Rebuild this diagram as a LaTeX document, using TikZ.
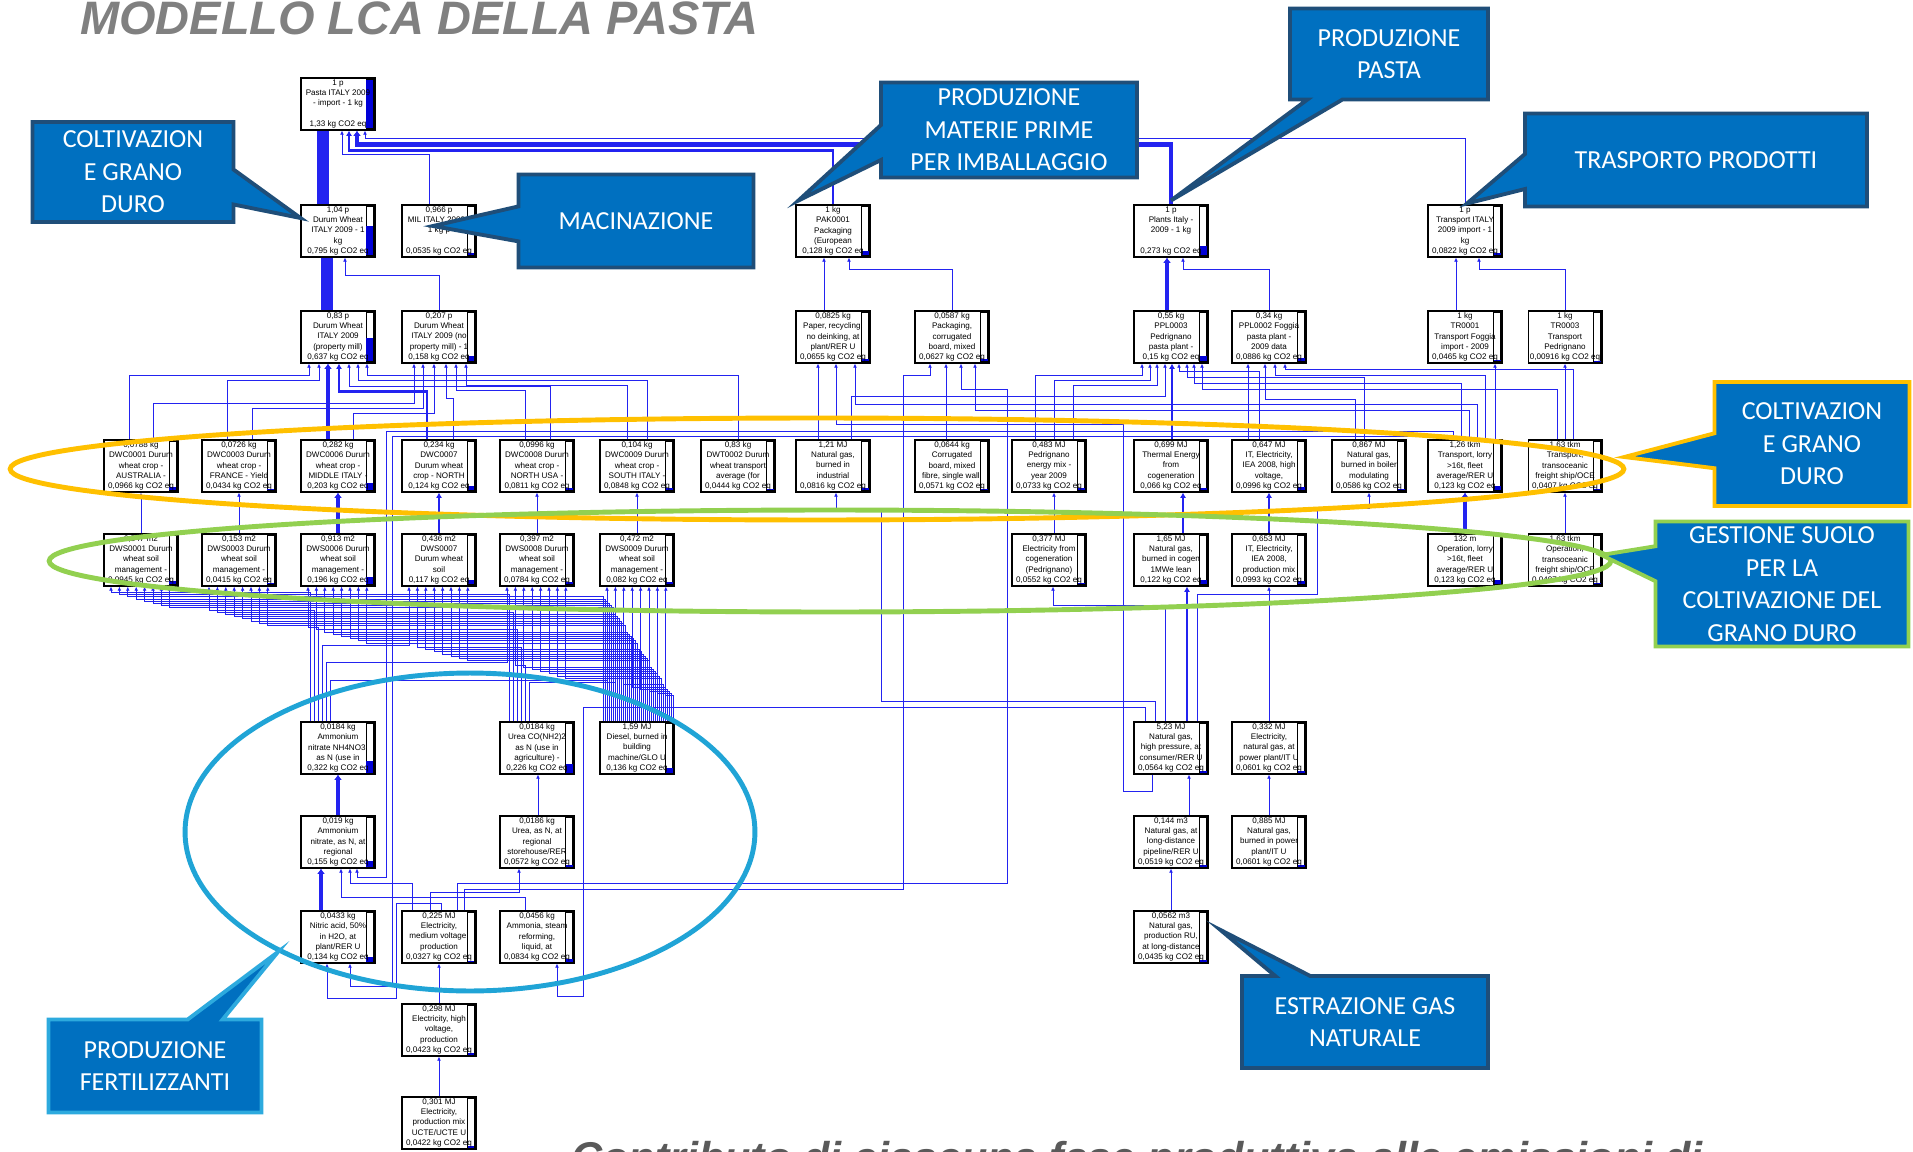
\documentclass[tikz,border=0pt]{standalone}
\usepackage{fontspec}
\setmainfont{Carlito}
\newfontfamily\boxfont{Liberation Sans}
\newfontfamily\headfont{Liberation Sans}
\usepackage{tikz}
\usetikzlibrary{arrows.meta,calc,shapes.callouts,shapes.geometric}
\definecolor{lineblue}{RGB}{35,35,240}
\definecolor{barblue}{RGB}{0,0,215}
\definecolor{calloutblue}{RGB}{0,112,192}
\definecolor{calloutedge}{RGB}{31,78,121}
\definecolor{fertedge}{RGB}{45,170,222}
\definecolor{ringorange}{RGB}{255,192,0}
\definecolor{ringgreen}{RGB}{146,208,80}
\definecolor{ringcyan}{RGB}{32,164,214}
\definecolor{titlegray}{RGB}{128,128,128}
\definecolor{captiongray}{RGB}{90,90,90}

\begin{document}
\begin{tikzpicture}[x=0.02cm, y=-0.02cm,
  proc/.style={draw, line width=0.6pt, fill=white, minimum width=1.48cm, minimum height=1.04cm,
    inner xsep=0pt, inner ysep=0.7pt, align=center, font=\boxfont\fontsize{4.6}{5.75}\selectfont,
    path picture={
      \draw[line width=0.6pt, fill=white] ([shift={(-0.17cm,-0.03cm)}]path picture bounding box.north east) rectangle ([shift={(-0.03cm,0.03cm)}]path picture bounding box.south east);
      \fill[barblue] ([shift={(-0.17cm,0.03cm)}]path picture bounding box.south east) rectangle ([shift={(-0.03cm,{0.03cm+#1*0.98cm})}]path picture bounding box.south east);}},
  flow/.style={draw=lineblue, line width=0.55pt, -{Latex[length=2.4pt,width=2.2pt]}},
  flowm/.style={flow, line width=1.3pt, -{Latex[length=3pt,width=3.4pt]}},
  flowt/.style={flow, line width=2.5pt, -{Latex[length=3pt,width=4.5pt]}},
  flowh/.style={draw=lineblue, line width=6.5pt},
  ring/.style={ellipse, draw=#1, line width=2.8pt, inner sep=0pt},
  bubble/.style={rectangle callout, draw=#1, fill=calloutblue, line width=2.2pt, text=white, align=center,
    inner sep=0pt, font=\fontsize{14.8}{18.5}\selectfont, callout pointer width=0.7cm},
  bubble/.default=calloutedge]
\useasboundingbox (0,0) rectangle (1913,1152);
\fill[white] (0,0) rectangle (1913,1152);

% process boxes
\node[proc=1] (pasta) at (338,104) {1 p\\Pasta ITALY 2009\\- import - 1 kg\\~\\1,33 kg CO2 eq};

\node[proc=0.6] (dwit) at (338,231) {1,04 p\\Durum Wheat\\ITALY 2009 - 1\\kg\\0,795 kg CO2 eq};
\node[proc=0.05] (mil) at (439,231) {0,966 p\\MIL ITALY 2009 -\\1 kg p\\~\\0,0535 kg CO2 eq};
\node[proc=0.1] (pak) at (833,231) {1 kg\\PAK0001\\Packaging\\(European\\0,128 kg CO2 eq};
\node[proc=0.2] (plants) at (1171,231) {1 p\\Plants Italy -\\2009 - 1 kg\\~\\0,273 kg CO2 eq};
\node[proc=0.06] (transp) at (1465,231) {1 p\\Transport ITALY\\2009 import - 1\\kg\\0,0822 kg CO2 eq};

\node[proc=0.48] (dwprop) at (338,337) {0,83 p\\Durum Wheat\\ITALY 2009\\(property mill)\\0,637 kg CO2 eq};
\node[proc=0.12] (dwnop) at (439,337) {0,207 p\\Durum Wheat\\ITALY 2009 (no\\property mill) - 1\\0,158 kg CO2 eq};
\node[proc=0.05] (paper) at (833,337) {0,0825 kg\\Paper, recycling,\\no deinking, at\\plant/RER U\\0,0655 kg CO2 eq};
\node[proc=0.05] (packaging) at (952,337) {0,0587 kg\\Packaging,\\corrugated\\board, mixed\\0,0627 kg CO2 eq};
\node[proc=0.11] (ppl3) at (1171,337) {0,55 kg\\PPL0003\\Pedrignano\\pasta plant -\\0,15 kg CO2 eq};
\node[proc=0.07] (ppl2) at (1269,337) {0,34 kg\\PPL0002 Foggia\\pasta plant -\\2009 data\\0,0886 kg CO2 eq};
\node[proc=0.03] (tr1) at (1465,337) {1 kg\\TR0001\\Transport Foggia\\import - 2009\\0,0465 kg CO2 eq};
\node[proc=0.01] (tr3) at (1565,337) {1 kg\\TR0003\\Transport\\Pedrignano\\0,00916 kg CO2 eq};

\node[proc=0.07] (dwc1) at (141,466) {0,0788 kg\\DWC0001 Durum\\wheat crop -\\AUSTRALIA -\\0,0966 kg CO2 eq};
\node[proc=0.03] (dwc3) at (239,466) {0,0726 kg\\DWC0003 Durum\\wheat crop -\\FRANCE - Yield\\0,0434 kg CO2 eq};
\node[proc=0.15] (dwc6) at (338,466) {0,282 kg\\DWC0006 Durum\\wheat crop -\\MIDDLE ITALY -\\0,203 kg CO2 eq};
\node[proc=0.09] (dwc7) at (439,466) {0,234 kg\\DWC0007\\Durum wheat\\crop - NORTH\\0,124 kg CO2 eq};
\node[proc=0.06] (dwc8) at (537,466) {0,0996 kg\\DWC0008 Durum\\wheat crop -\\NORTH USA -\\0,0811 kg CO2 eq};
\node[proc=0.06] (dwc9) at (637,466) {0,104 kg\\DWC0009 Durum\\wheat crop -\\SOUTH ITALY -\\0,0848 kg CO2 eq};
\node[proc=0.03] (dwt) at (738,466) {0,83 kg\\DWT0002 Durum\\wheat transport\\average (for\\0,0444 kg CO2 eq};
\node[proc=0.06] (ngind) at (833,466) {1,21 MJ\\Natural gas,\\burned in\\industrial\\0,0816 kg CO2 eq};
\node[proc=0.04] (corr) at (952,466) {0,0644 kg\\Corrugated\\board, mixed\\fibre, single wall,\\0,0571 kg CO2 eq};
\node[proc=0.05] (pedr) at (1049,466) {0,483 MJ\\Pedrignano\\energy mix -\\year 2009\\0,0733 kg CO2 eq};
\node[proc=0.05] (thermal) at (1171,466) {0,699 MJ\\Thermal Energy\\from\\cogeneration\\0,066 kg CO2 eq};
\node[proc=0.07] (ithv) at (1269,466) {0,647 MJ\\IT, Electricity,\\IEA 2008, high\\voltage,\\0,0996 kg CO2 eq};
\node[proc=0.04] (ngboiler) at (1369,466) {0,867 MJ\\Natural gas,\\burned in boiler\\modulating\\0,0586 kg CO2 eq};
\node[proc=0.09] (lorry) at (1465,466) {1,26 tkm\\Transport, lorry\\>16t, fleet\\average/RER U\\0,123 kg CO2 eq};
\node[proc=0.03] (ocean) at (1565,466) {1,63 tkm\\Transport,\\transoceanic\\freight ship/OCE\\0,0407 kg CO2 eq};

\node[proc=0.07] (dws1) at (141,560) {0,547 m2\\DWS0001 Durum\\wheat soil\\management -\\0,0945 kg CO2 eq};
\node[proc=0.03] (dws3) at (239,560) {0,153 m2\\DWS0003 Durum\\wheat soil\\management -\\0,0415 kg CO2 eq};
\node[proc=0.15] (dws6) at (338,560) {0,913 m2\\DWS0006 Durum\\wheat soil\\management -\\0,196 kg CO2 eq};
\node[proc=0.09] (dws7) at (439,560) {0,436 m2\\DWS0007\\Durum wheat\\soil\\0,117 kg CO2 eq};
\node[proc=0.06] (dws8) at (537,560) {0,397 m2\\DWS0008 Durum\\wheat soil\\management -\\0,0784 kg CO2 eq};
\node[proc=0.06] (dws9) at (637,560) {0,472 m2\\DWS0009 Durum\\wheat soil\\management -\\0,082 kg CO2 eq};
\node[proc=0.04] (elcogen) at (1049,560) {0,377 MJ\\Electricity from\\cogeneration\\(Pedrignano)\\0,0552 kg CO2 eq};
\node[proc=0.09] (ngcogen) at (1171,560) {1,65 MJ\\Natural gas,\\burned in cogen\\1MWe lean\\0,122 kg CO2 eq};
\node[proc=0.07] (itmix) at (1269,560) {0,653 MJ\\IT, Electricity,\\IEA 2008,\\production mix\\0,0993 kg CO2 eq};
\node[proc=0.09] (oplorry) at (1465,560) {132 m\\Operation, lorry\\>16t, fleet\\average/RER U\\0,123 kg CO2 eq};
\node[proc=0.03] (opocean) at (1565,560) {1,63 tkm\\Operation,\\transoceanic\\freight ship/OCE\\0,0407 kg CO2 eq};

\node[proc=0.24] (an) at (338,748) {0,0184 kg\\Ammonium\\nitrate NH4NO3,\\as N (use in\\0,322 kg CO2 eq};
\node[proc=0.17] (urea) at (537,748) {0,0184 kg\\Urea CO(NH2)2\\as N (use in\\agriculture) -\\0,226 kg CO2 eq};
\node[proc=0.1] (diesel) at (637,748) {1,59 MJ\\Diesel, burned in\\building\\machine/GLO U\\0,136 kg CO2 eq};
\node[proc=0.04] (nghp) at (1171,748) {5,23 MJ\\Natural gas,\\high pressure, at\\consumer/RER U\\0,0564 kg CO2 eq};
\node[proc=0.04] (elng) at (1269,748) {0,332 MJ\\Electricity,\\natural gas, at\\power plant/IT U\\0,0601 kg CO2 eq};

\node[proc=0.12] (anreg) at (338,842) {0,019 kg\\Ammonium\\nitrate, as N, at\\regional\\0,155 kg CO2 eq};
\node[proc=0.04] (ureareg) at (537,842) {0,0186 kg\\Urea, as N, at\\regional\\storehouse/RER\\0,0572 kg CO2 eq};
\node[proc=0.04] (ngld) at (1171,842) {0,144 m3\\Natural gas, at\\long-distance\\pipeline/RER U\\0,0519 kg CO2 eq};
\node[proc=0.04] (ngpp) at (1269,842) {0,885 MJ\\Natural gas,\\burned in power\\plant/IT U\\0,0601 kg CO2 eq};

\node[proc=0.1] (nitric) at (338,937) {0,0433 kg\\Nitric acid, 50\%\\in H2O, at\\plant/RER U\\0,134 kg CO2 eq};
\node[proc=0.02] (elmv) at (439,937) {0,225 MJ\\Electricity,\\medium voltage,\\production\\0,0327 kg CO2 eq};
\node[proc=0.06] (ammonia) at (537,937) {0,0456 kg\\Ammonia, steam\\reforming,\\liquid, at\\0,0834 kg CO2 eq};
\node[proc=0.03] (ngru) at (1171,937) {0,0562 m3\\Natural gas,\\production RU,\\at long-distance\\0,0435 kg CO2 eq};
\node[proc=0.03] (elhv) at (439,1030) {0,298 MJ\\Electricity, high\\voltage,\\production\\0,0423 kg CO2 eq};
\node[proc=0.03] (elucte) at (439,1123) {0,301 MJ\\Electricity,\\production mix\\UCTE/UCTE U\\0,0422 kg CO2 eq};

% top of the tree
\draw[flowh] ($(dwit.north)+(-15,0)$) -- ($(pasta.south)+(-15,0)$);
\draw[flow] ($(mil.north)+(-10,0)$) |- ($(pasta.south)+(4,24)$) -- ($(pasta.south)+(4,0)$);
\draw[flowm] (pak.north) |- ($(pasta.south)+(11,20)$) -- ($(pasta.south)+(11,0)$);
\draw[flowt] (plants.north) |- ($(pasta.south)+(19,14)$) -- ($(pasta.south)+(19,0)$);
\draw[flow] (transp.north) |- ($(pasta.south)+(27,8)$) -- ($(pasta.south)+(27,0)$);
\draw[flowh] ($(dwprop.north)+(-11,0)$) -- ($(dwit.south)+(-11,0)$);
\draw[flow] (dwnop.north) |- ($(dwit.south)+(7,18)$) -- ($(dwit.south)+(7,0)$);
\draw[flow] ($(paper.north)+(-9,0)$) -- ($(pak.south)+(-9,0)$);
\draw[flow] (packaging.north) |- ($(pak.south)+(16,12)$) -- ($(pak.south)+(16,0)$);
\draw[flowt] ($(ppl3.north)+(-4,0)$) -- ($(plants.south)+(-4,0)$);
\draw[flow] (ppl2.north) |- ($(plants.south)+(12,12)$) -- ($(plants.south)+(12,0)$);
\draw[flow] ($(tr1.north)+(-9,0)$) -- ($(transp.south)+(-9,0)$);
\draw[flow] (tr3.north) |- ($(transp.south)+(14,12)$) -- ($(transp.south)+(14,0)$);

% wheat crops
\draw[flow] ($(dwc1.north)+(-12,0)$) |- ($(dwprop.south)+(-29,12)$) -- ($(dwprop.south)+(-29,0)$);
\draw[flow] ($(dwc3.north)+(-12,0)$) |- ($(dwprop.south)+(-19,17)$) -- ($(dwprop.south)+(-19,0)$);
\draw[flowt] ($(dwc6.north)+(-10,0)$) -- ($(dwprop.south)+(-10,0)$);
\draw[flowm] ($(dwc7.north)+(-12,0)$) |- ($(dwprop.south)+(1,28)$) -- ($(dwprop.south)+(1,0)$);
\draw[flow] ($(dwc8.north)+(13,0)$) |- ($(dwprop.south)+(11,23)$) -- ($(dwprop.south)+(11,0)$);
\draw[flow] ($(dwc9.north)+(10,0)$) |- ($(dwprop.south)+(20,17)$) -- ($(dwprop.south)+(20,0)$);
\draw[flow] (dwt.north) |- ($(dwprop.south)+(29,12)$) -- ($(dwprop.south)+(29,0)$);
\draw[flow] ($(dwc1.north)+(12,0)$) |- ($(dwnop.south)+(-25,40)$) -- ($(dwnop.south)+(-25,0)$);
\draw[flow] ($(dwc3.north)+(13,0)$) |- ($(dwnop.south)+(-16,45)$) -- ($(dwnop.south)+(-16,0)$);
\draw[flow] ($(dwc6.north)+(15,0)$) |- ($(dwnop.south)+(-5,50)$) -- ($(dwnop.south)+(-5,0)$);
\draw[flow] ($(dwc7.north)+(14,0)$) |- ($(dwnop.south)+(7,35)$) -- ($(dwnop.south)+(7,0)$);
\draw[flow] ($(dwc8.north)+(-12,0)$) |- ($(dwnop.south)+(17,27)$) -- ($(dwnop.south)+(17,0)$);
\draw[flow] ($(dwc9.north)+(-10,0)$) |- ($(dwnop.south)+(27,22)$) -- ($(dwnop.south)+(27,0)$);
\draw[flow] (dws1.north) -- (dwc1.south);
\draw[flow] (dws3.north) -- (dwc3.south);
\draw[flowt] (dws6.north) -- (dwc6.south);
\draw[flowm] (dws7.north) -- (dwc7.south);
\draw[flow] (dws8.north) -- (dwc8.south);
\draw[flow] (dws9.north) -- (dwc9.south);

% packaging, plants, transport
\draw[flow] ($(ngind.north)+(-15,0)$) -- ($(paper.south)+(-15,0)$);
\draw[flow] ($(nghp.south)+(-19,0)$) |- ($(paper.south)+(290,428)$) |- ($(paper.south)+(3,61)$) -- ($(paper.south)+(3,0)$);
\draw[flow] ($(lorry.north)+(12,0)$) |- ($(paper.south)+(22,41)$) -- ($(paper.south)+(22,0)$);
\draw[flow] ($(elmv.north)+(25,0)$) |- ($(packaging.south)+(-49,526)$) |- ($(packaging.south)+(-22,12)$) -- ($(packaging.south)+(-22,0)$);
\draw[flow] ($(corr.north)+(-6,0)$) -- ($(packaging.south)+(-6,0)$);
\draw[flow] ($(elmv.north)+(18,0)$) |- ($(packaging.south)+(55,520)$) |- ($(packaging.south)+(9,26)$) -- ($(packaging.south)+(9,0)$);
\draw[flow] ($(lorry.north)+(4,0)$) |- ($(packaging.south)+(23,47)$) -- ($(packaging.south)+(23,0)$);
\draw[flow] ($(pedr.north)+(-14,0)$) |- ($(ppl3.south)+(-29,12)$) -- ($(ppl3.south)+(-29,0)$);
\draw[flow] ($(pedr.north)+(5,0)$) |- ($(ppl3.south)+(-21,17)$) -- ($(ppl3.south)+(-21,0)$);
\draw[flow] ($(pedr.north)+(24,0)$) |- ($(ppl3.south)+(-14,22)$) -- ($(ppl3.south)+(-14,0)$);
\draw[flow] ($(ngind.north)+(18,0)$) |- ($(ppl3.south)+(-6,33)$) -- ($(ppl3.south)+(-6,0)$);
\draw[flowm] ($(thermal.north)+(1,0)$) -- ($(ppl3.south)+(1,0)$);
\draw[flow] ($(ithv.north)+(-10,0)$) |- ($(ppl3.south)+(8,8)$) -- ($(ppl3.south)+(8,0)$);
\draw[flow] ($(ngboiler.north)+(-5,0)$) |- ($(ppl3.south)+(16,14)$) -- ($(ppl3.south)+(16,0)$);
\draw[flow] ($(lorry.north)+(-4,0)$) |- ($(ppl3.south)+(23,20)$) -- ($(ppl3.south)+(23,0)$);
\draw[flow] ($(ocean.north)+(-8,0)$) |- ($(ppl3.south)+(31,26)$) -- ($(ppl3.south)+(31,0)$);
\draw[flow] ($(ithv.north)+(-21,0)$) -- ($(ppl2.south)+(-21,0)$);
\draw[flow] ($(ngboiler.north)+(-14,0)$) |- ($(ppl2.south)+(-4,36)$) -- ($(ppl2.south)+(-4,0)$);
\draw[flow] ($(lorry.north)+(20,0)$) |- ($(ppl2.south)+(6,12)$) -- ($(ppl2.south)+(6,0)$);
\draw[flow] ($(ocean.north)+(8,0)$) |- ($(ppl2.south)+(16,6)$) -- ($(ppl2.south)+(16,0)$);
\draw[flow] ($(lorry.north)+(30,0)$) -- ($(tr1.south)+(30,0)$);
\draw[flow] (ocean.north) -- (tr3.south);
\draw[flow] ($(elcogen.north)+(5,0)$) -- ($(pedr.south)+(5,0)$);
\draw[flowm] ($(ngcogen.north)+(12,0)$) -- ($(thermal.south)+(12,0)$);
\draw[flowm] (itmix.north) -- (ithv.south);
\draw[flowt] (oplorry.north) -- (lorry.south);
\draw[flow] (opocean.north) -- (ocean.south);

% natural gas
\draw[flow] ($(nghp.north)+(-16,0)$) |- ($(ngind.south)+(48,209)$) |- ($(ngind.south)+(3,19)$) -- ($(ngind.south)+(3,0)$);
\draw[flow] ($(nghp.north)+(-6,0)$) |- ($(elcogen.south)+(4,19)$) -- ($(elcogen.south)+(4,0)$);
\draw[flowm] ($(nghp.north)+(16,0)$) -- ($(ngcogen.south)+(16,0)$);
\draw[flow] ($(nghp.north)+(26,0)$) |- ($(ngboiler.south)+(-52,102)$) |- ($(ngboiler.south)+(0,16)$) -- (ngboiler.south);
\draw[flow] ($(nghp.north)+(-26,0)$) |- ($(ammonia.south)+(46,-256)$) |- ($(ammonia.south)+(20,33)$) -- ($(ammonia.south)+(20,0)$);
\draw[flow] ($(ngld.north)+(18,0)$) -- ($(nghp.south)+(18,0)$);
\draw[flow] (ngru.north) -- (ngld.south);
\draw[flow] (elng.north) -- (itmix.south);
\draw[flow] (ngpp.north) -- (elng.south);

% fertilisers
\draw[flowt] (anreg.north) -- (an.south);
\draw[flowt] ($(nitric.north)+(-17,0)$) -- ($(anreg.south)+(-17,0)$);
\draw[flow] ($(ammonia.north)+(-12,0)$) |- ($(anreg.south)+(3,29)$) -- ($(anreg.south)+(3,0)$);
\draw[flow] ($(elmv.north)+(-27,0)$) |- ($(anreg.south)+(12,15)$) -- ($(anreg.south)+(12,0)$);
\draw[flow] ($(lorry.north)+(-12,0)$) |- ($(anreg.south)+(48,-437)$) |- ($(anreg.south)+(19,9)$) -- ($(anreg.south)+(19,0)$);
\draw[flow] ($(lorry.north)+(-20,0)$) |- ($(nitric.south)+(54,-527)$) |- ($(nitric.south)+(12,23)$) -- ($(nitric.south)+(12,0)$);
\draw[flow] ($(ureareg.north)+(1,0)$) -- ($(urea.south)+(1,0)$);
\draw[flow] ($(elmv.north)+(-9,0)$) |- ($(ureareg.south)+(-18,24)$) -- ($(ureareg.south)+(-18,0)$);
\draw[flow] ($(elmv.north)+(2,0)$) |- ($(nitric.south)+(58,-60)$) |- ($(nitric.south)+(-11,35)$) -- ($(nitric.south)+(-11,0)$);
\draw[flow] (elhv.north) -- (elmv.south);
\draw[flow] (elucte.north) -- (elhv.south);

% soil management inputs
\foreach \n [count=\i] in {dws1,dws3,dws6,dws7,dws8,dws9}
  \foreach \j in {0,...,7} {
    \pgfmathsetmacro{\ex}{-30+8.4*\j}
    \pgfmathsetmacro{\lv}{6+2.2*(8*(\i-1)+\j)}
    \ifcase\j \def\tgt{an}\pgfmathsetmacro{\bx}{-28+4*(\i-1)}
    \or \def\tgt{urea}\pgfmathsetmacro{\bx}{-28+4*(\i-1)}
    \else \def\tgt{diesel}\pgfmathsetmacro{\bx}{-34+2*(6*(\i-1)+\j-2)}\fi
    \draw[flow] ($(\tgt.north)+(\bx,0)$) |- ($(\n.south)+(\ex,\lv)$) -- ($(\n.south)+(\ex,0)$);
  }

% highlight rings
\node[ring=ringorange, minimum width=32.28cm, minimum height=2.04cm] (ringcrop) at (817,469) {};
\node[ring=ringgreen, minimum width=31.24cm, minimum height=2.04cm] (ringsoil) at (830,561) {};
\node[ring=ringcyan, minimum width=11.4cm, minimum height=6.36cm] (ringfert) at (470,832) {};

% callouts
\node[bubble, minimum width=4.02cm, minimum height=2cm, callout absolute pointer={($(dwit.west)+(0,-13)$)}] (calcrop) at (133,172) {COLTIVAZION\\E GRANO\\DURO};
\node[bubble, minimum width=4.7cm, minimum height=1.86cm, callout absolute pointer={($(mil.center)+(-6,-5)$)}] (calmill) at (636,221) {MACINAZIONE};
\node[bubble, minimum width=5.12cm, minimum height=1.9cm, callout absolute pointer={($(pak.north west)+(3,-4)$)}] (calpack) at (1009,130) {PRODUZIONE\\MATERIE PRIME\\PER IMBALLAGGIO};
\node[bubble, minimum width=3.96cm, minimum height=1.82cm, callout absolute pointer={($(plants.north)+(0,-4)$)}] (calpasta) at (1389,54) {PRODUZIONE\\PASTA};
\node[bubble, minimum width=6.84cm, minimum height=1.86cm, callout absolute pointer={($(transp.north)+(2,-1)$)}] (caltrans) at (1696,160) {TRASPORTO PRODOTTI};
\node[bubble=ringorange, minimum width=3.9cm, minimum height=2.48cm, callout absolute pointer={($(ringcrop.east)+(-2,-12)$)}] (calcrop2) at (1812,444) {COLTIVAZION\\E GRANO\\DURO};
\node[bubble=ringgreen, minimum width=5.06cm, minimum height=2.5cm, callout absolute pointer={($(ringsoil.east)+(-12,-6)$)}] (calsoil) at (1782,584) {GESTIONE SUOLO\\PER LA\\COLTIVAZIONE DEL\\GRANO DURO};
\node[bubble=fertedge, minimum width=4.26cm, minimum height=1.86cm, callout absolute pointer={(ringfert.212)}] (calfert) at (155,1066) {PRODUZIONE\\FERTILIZZANTI};
\node[bubble, minimum width=4.92cm, minimum height=1.84cm, callout absolute pointer={($(ngru.east)+(12,-7)$)}] (calgas) at (1365,1022) {ESTRAZIONE GAS\\NATURALE};

% titles
\node[anchor=base west, inner sep=0pt, text=titlegray, font=\headfont\bfseries\itshape\fontsize{26.7}{30}\selectfont] (title) at (80,35) {MODELLO LCA DELLA PASTA};
\begin{scope}
\clip (0,0) rectangle (1913,1152);
\node[anchor=base west, inner sep=0pt, text=captiongray, font=\headfont\bfseries\itshape\fontsize{24.5}{28}\selectfont] (caption) at (571,1172) {Contributo di ciascuna fase produttiva alle emissioni di};
\end{scope}
\end{tikzpicture}
\end{document}
